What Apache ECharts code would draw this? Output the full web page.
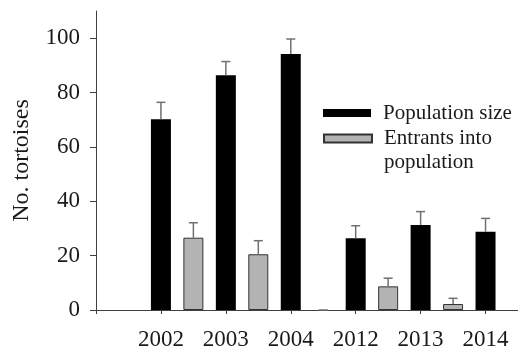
<!DOCTYPE html>
<html>
<head>
<meta charset="utf-8">
<script src="https://cdn.jsdelivr.net/npm/echarts@6/dist/echarts.min.js"></script>
<style>html,body{margin:0;padding:0;background:#fff;}#c{width:518px;height:351px;}</style>
</head>
<body>
<div id="c"></div>
<script>
var years = ['2002', '2003', '2004', '2012', '2013', '2014'];
var population = [70.2, 86.4, 94.2, 26.4, 31.3, 28.8];
var populationErr = [6.2, 5.0, 5.5, 4.6, 4.9, 4.9];
var entrants = [26.6, 20.5, 0, 8.7, 2.2];
var entrantsErr = [5.5, 5.0, 0, 3.0, 2.1];
var yTicks = [0, 20, 40, 60, 80, 100];
var legendNames = ['Population size', 'Entrants into population'];

var FONT = 'Liberation Serif';
var TXT = '#1a1a1a';

var popData = population.map(function (v, i) { return [i + 1, v]; });
var entData = entrants.map(function (v, i) {
  var d = { value: [i + 1.5, v] };
  if (v === 0) d.itemStyle = { borderWidth: 0, opacity: 0 };
  return d;
});
var popErrData = population.map(function (v, i) { return [i + 1, v, v + populationErr[i]]; });
var entErrData = entrants.map(function (v, i) { return [i + 1.5, v, v + entrantsErr[i]]; });

function renderErr(params, api) {
  var x = api.value(0), lo = api.value(1), hi = api.value(2);
  var p1 = api.coord([x, lo]);
  var p2 = api.coord([x, hi]);
  var st = { stroke: '#707070', lineWidth: 1.5 };
  return {
    type: 'group',
    children: [
      { type: 'line', shape: { x1: p1[0], y1: p1[1], x2: p2[0], y2: p2[1] }, style: st },
      { type: 'line', shape: { x1: p2[0] - 4.5, y1: p2[1], x2: p2[0] + 4.5, y2: p2[1] }, style: st }
    ]
  };
}

var chart = echarts.init(document.getElementById('c'), null, { renderer: 'canvas' });
chart.setOption({
  animation: false,
  backgroundColor: '#fff',
  grid: { left: 96, right: -3, top: 11, bottom: 41, containLabel: false },
  legend: [
    {
      data: [legendNames[0]],
      left: 323, top: 102, padding: 0, orient: 'vertical',
      itemWidth: 48, itemHeight: 8, selectedMode: false,
      icon: 'rect',
      textStyle: { fontFamily: FONT, fontSize: 21, color: TXT, lineHeight: 22, padding: [0, 0, 0, 7] }
    },
    {
      data: [legendNames[1]],
      left: 323, top: 102.5, padding: 0, orient: 'vertical',
      itemWidth: 48, itemHeight: 8, selectedMode: false,
      icon: 'rect',
      formatter: function () { return '\nEntrants into\npopulation'; },
      textStyle: { fontFamily: FONT, fontSize: 21, color: TXT, lineHeight: 24, padding: [0, 0, 0, 7] }
    }
  ],
  xAxis: {
    type: 'value', min: 0, max: 6.5, interval: 1,
    splitLine: { show: false },
    axisLine: { show: true, lineStyle: { color: '#404040', width: 1 } },
    axisTick: { show: true, length: 4, lineStyle: { color: '#404040' }, customValues: [0, 1, 2, 3, 4, 5, 6] },
    axisLabel: {
      customValues: [1, 2, 3, 4, 5, 6],
      formatter: function (v) { return years[Math.round(v) - 1] || ''; },
      fontFamily: FONT, fontSize: 23, color: TXT, margin: 18
    }
  },
  yAxis: {
    type: 'value', min: 0, max: 110,
    name: 'No. tortoises', nameLocation: 'middle', nameGap: 62,
    nameTextStyle: { fontFamily: FONT, fontSize: 24, color: TXT },
    splitLine: { show: false },
    axisLine: { show: true, lineStyle: { color: '#404040', width: 1 } },
    axisTick: { show: true, length: 6, lineStyle: { color: '#404040' }, customValues: yTicks },
    axisLabel: { customValues: yTicks, fontFamily: FONT, fontSize: 23, color: TXT, margin: 16 }
  },
  series: [
    {
      name: legendNames[0], type: 'bar', data: popData, barWidth: 20, barGap: '-100%',
      itemStyle: { color: '#000' }, z: 2
    },
    {
      name: legendNames[1], type: 'bar', data: entData, barWidth: 20, barGap: '-100%',
      itemStyle: { color: '#b3b3b3', borderColor: '#333333', borderWidth: 1 }, z: 2
    },
    { type: 'custom', renderItem: renderErr, data: popErrData, z: 3, silent: true },
    { type: 'custom', renderItem: renderErr, data: entErrData, z: 3, silent: true }
  ]
});
</script>
</body>
</html>
